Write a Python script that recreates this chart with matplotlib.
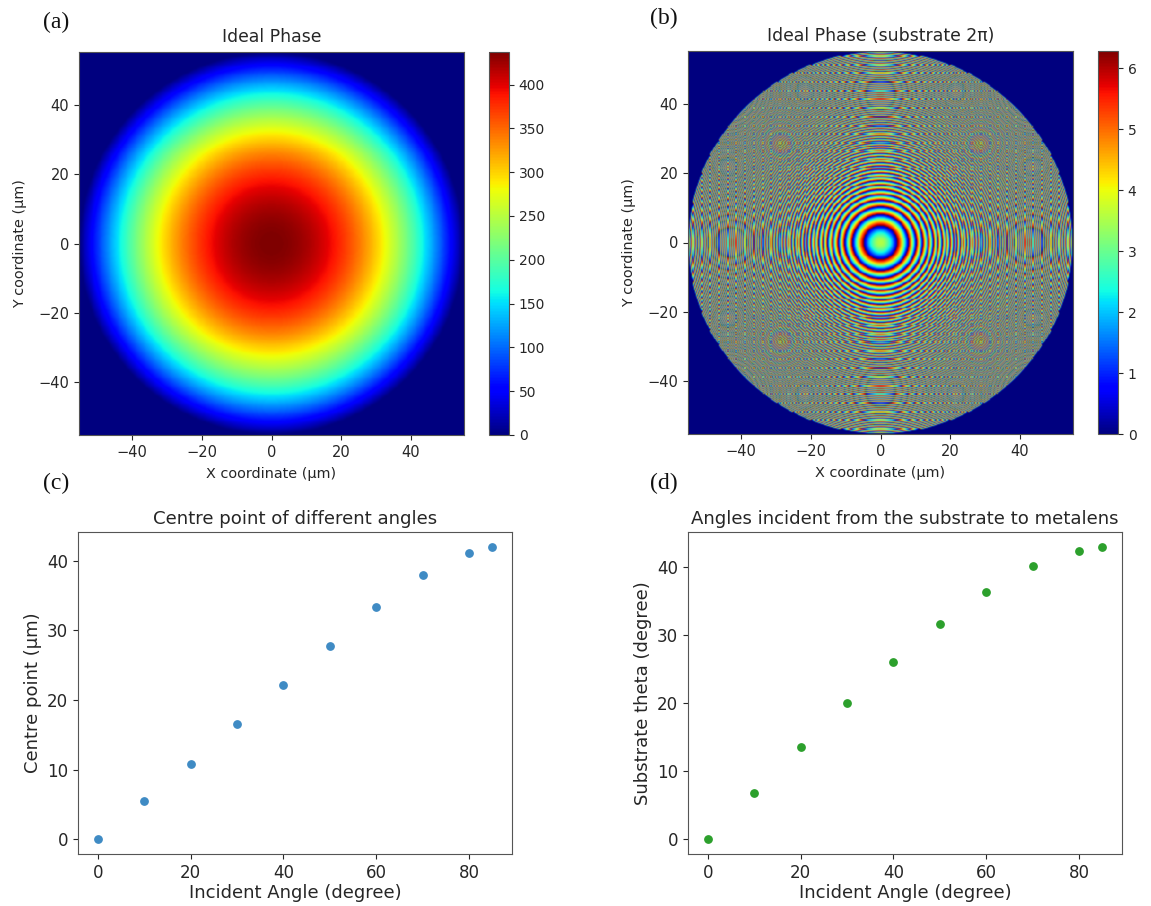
import numpy as np
import matplotlib
matplotlib.use('Agg')
import matplotlib.pyplot as plt
from matplotlib.cm import ScalarMappable
from matplotlib.colors import Normalize

W, H = 1151, 906

# Points
angles = [0, 10, 20, 30, 40, 50, 60, 70, 80, 85]
centre_point = [0, 5.45, 10.8, 16.5, 22.1, 27.7, 33.3, 37.9, 41.1, 42.0]
substrate_theta = [0, 6.75, 13.5, 20.0, 26.0, 31.6, 36.4, 40.1, 42.3, 43.0]

# Parametres de la lentille (pour les deux cartes de phase)
R = 55.0      # rayon de la lentille
f = 120.0     # focale equivalente
phi_max = 437.1
pitch = 0.257 # pas de la grille, donne le moire de (b)
half_width = 55.2
n_screen = 385  # largeur de l'image a l'ecran

x = np.arange(-214, 215) * pitch
X, Y = np.meshgrid(x, x)
r = np.sqrt(X**2 + Y**2)
A = phi_max / (np.sqrt(f**2 + R**2) - f)
phase = A * (np.sqrt(f**2 + R**2) - np.sqrt(f**2 + r**2))
phase[r > R] = 0
phase_wrapped = np.mod(phase, 2 * np.pi)
phase_wrapped[r > R] = 0

text_col = '#262626'
spine_col = '#555555'


def axes_px(left, top, right, bottom):
    return fig.add_axes([left / W, 1 - bottom / H, (right - left) / W, (bottom - top) / H])


def style(ax, size):
    ax.tick_params(labelsize=size, colors=text_col, color=text_col)
    for s in ax.spines.values():
        s.set_color(spine_col)


def soften(rgb):
    # on garde une ligne sur quelques-unes (comme imshow en nearest), puis leger flou 1-3-1
    idx = np.round(np.linspace(0, rgb.shape[0] - 1, n_screen)).astype(int)
    rgb = rgb[idx][:, idx]
    for axis in (0, 1):
        rgb = (np.roll(rgb, 1, axis) + 3 * rgb + np.roll(rgb, -1, axis)) / 5
    return rgb


def phase_map(box, cbox, data, title, ticks):
    ax = axes_px(*box)
    sm = ScalarMappable(norm=Normalize(data.min(), data.max()), cmap='jet')
    rgb = soften(sm.to_rgba(data)[:, :, :3])
    ax.imshow(rgb, origin='lower', interpolation='nearest',
              extent=[-half_width, half_width, -half_width, half_width], aspect='auto')
    ax.set_title(title, fontsize=12.4, color=text_col, pad=7)
    ax.set_xlabel('X coordinate (µm)', fontsize=10.4, color=text_col, labelpad=5)
    ax.set_ylabel('Y coordinate (µm)', fontsize=10.4, color=text_col, labelpad=8)
    ax.set_xticks([-40, -20, 0, 20, 40])
    ax.set_yticks([-40, -20, 0, 20, 40])
    style(ax, 10.5)
    cax = axes_px(*cbox)
    cb = fig.colorbar(sm, cax=cax)
    cb.set_ticks(ticks)
    cb.ax.tick_params(labelsize=10, colors=text_col, color=text_col)
    cb.outline.set_edgecolor(spine_col)


def scatter_plot(box, yvals, col, title, ylabel):
    ax = axes_px(*box)
    ax.scatter(angles, yvals, s=28, color=col)
    ax.set_title(title, fontsize=13.1, color=text_col, pad=6)
    ax.set_xlabel('Incident Angle (degree)', fontsize=13, color=text_col, labelpad=2)
    ax.set_ylabel(ylabel, fontsize=13, color=text_col, labelpad=4)
    ax.set_xticks([0, 20, 40, 60, 80])
    ax.set_yticks([0, 10, 20, 30, 40])
    style(ax, 12)


fig = plt.figure(figsize=(W / 100, H / 100), dpi=100)

phase_map((79, 52, 464, 435), (489, 52, 509, 435), phase, 'Ideal Phase',
          [0, 50, 100, 150, 200, 250, 300, 350, 400])
phase_map((688, 51, 1073, 434), (1098, 51, 1118, 434), phase_wrapped, 'Ideal Phase (substrate 2π)',
          [0, 1, 2, 3, 4, 5, 6])

scatter_plot((78, 532, 512, 854), centre_point, '#3f8bc4',
             'Centre point of different angles', 'Centre point (µm)')
scatter_plot((688, 532, 1122, 854), substrate_theta, '#2ca02c',
             'Angles incident from the substrate to metalens', 'Substrate theta (degree)')

# Lettres des panneaux
for lab, px, py in [('(a)', 43, 22), ('(b)', 650, 18), ('(c)', 43, 483), ('(d)', 650, 483)]:
    fig.text(px / W, 1 - py / H, lab, fontsize=17, family='Liberation Serif',
             color='#111111', va='center')

fig.savefig('out.png', dpi=100)
